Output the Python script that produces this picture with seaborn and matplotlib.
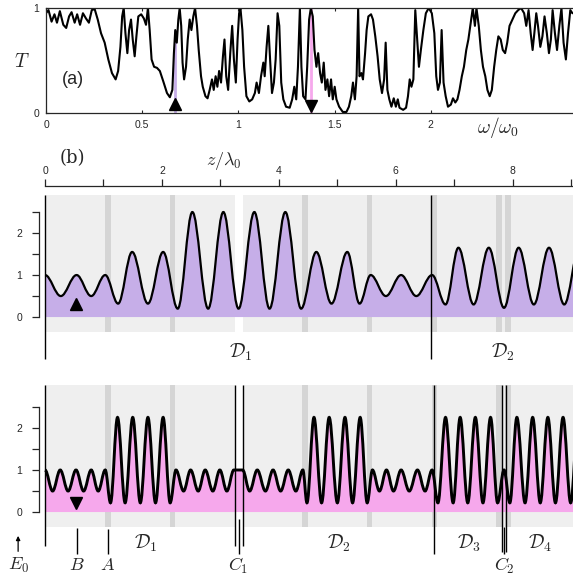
import numpy as np
import matplotlib
matplotlib.use("Agg")
import matplotlib.pyplot as plt
import seaborn as sns
from matplotlib.path import Path
from matplotlib.patches import PathPatch

# ─── DATA ─────────────────────────────────────────────────────────────────────
# (a) transmission spectrum
omega = [0.0, 0.013, 0.029, 0.044, 0.057, 0.072, 0.09, 0.105, 0.12, 0.133, 0.149, 0.162,
         0.177, 0.192, 0.208, 0.223, 0.238, 0.253, 0.269, 0.286, 0.305, 0.324, 0.343, 0.362,
         0.375, 0.387, 0.396, 0.404, 0.413, 0.423, 0.432, 0.442, 0.451, 0.461, 0.47, 0.48,
         0.495, 0.509, 0.52, 0.53, 0.539, 0.549, 0.562, 0.577, 0.592, 0.61, 0.629, 0.644,
         0.657, 0.665, 0.672, 0.68, 0.688, 0.695, 0.703, 0.71, 0.718, 0.728, 0.737, 0.747,
         0.756, 0.766, 0.775, 0.785, 0.794, 0.806, 0.815, 0.829, 0.84, 0.851, 0.863, 0.872,
         0.882, 0.891, 0.9, 0.91, 0.92, 0.928, 0.937, 0.947, 0.958, 0.968, 0.977, 0.987,
         0.996, 1.004, 1.011, 1.021, 1.03, 1.042, 1.057, 1.072, 1.086, 1.095, 1.107, 1.118,
         1.13, 1.137, 1.147, 1.156, 1.166, 1.175, 1.185, 1.194, 1.204, 1.213, 1.223, 1.234,
         1.248, 1.267, 1.28, 1.291, 1.301, 1.31, 1.32, 1.328, 1.337, 1.349, 1.358, 1.368,
         1.377, 1.387, 1.396, 1.406, 1.415, 1.425, 1.434, 1.444, 1.453, 1.463, 1.472, 1.482,
         1.491, 1.501, 1.51, 1.524, 1.543, 1.562, 1.575, 1.587, 1.596, 1.606, 1.615, 1.623,
         1.63, 1.64, 1.648, 1.659, 1.667, 1.676, 1.69, 1.70, 1.712, 1.724, 1.735, 1.747,
         1.758, 1.766, 1.775, 1.785, 1.796, 1.808, 1.819, 1.829, 1.838, 1.857, 1.872, 1.882,
         1.891, 1.9, 1.91, 1.92, 1.93, 1.939, 1.949, 1.962, 1.975, 1.99, 2.006, 2.019,
         2.029, 2.038, 2.048, 2.057, 2.067, 2.078, 2.09, 2.105, 2.116, 2.128, 2.139, 2.15,
         2.162, 2.173, 2.185, 2.196, 2.208, 2.219, 2.23, 2.238, 2.25, 2.261, 2.272, 2.284,
         2.295, 2.307, 2.318, 2.33, 2.341, 2.352, 2.364, 2.375, 2.387, 2.398, 2.41, 2.425,
         2.44, 2.455, 2.47, 2.486, 2.497, 2.509, 2.52, 2.53, 2.539, 2.549, 2.558, 2.57,
         2.581, 2.592, 2.604, 2.615, 2.625, 2.634, 2.646, 2.657, 2.669, 2.68, 2.691, 2.703,
         2.714, 2.726, 2.737]
trans = [0.95, 0.98, 0.87, 0.94, 0.86, 0.97, 0.84, 0.81, 0.92, 0.96, 0.86, 0.94,
         0.84, 0.95, 0.90, 0.86, 0.98, 0.99, 0.89, 0.76, 0.67, 0.51, 0.38, 0.32,
         0.40, 0.63, 0.92, 1.0, 0.76, 0.57, 0.79, 0.89, 0.70, 0.54, 0.73, 0.92,
         0.94, 0.90, 0.84, 1.0, 0.79, 0.51, 0.44, 0.43, 0.40, 0.30, 0.19, 0.15,
         0.22, 0.57, 0.79, 0.67, 0.89, 1.0, 0.83, 0.48, 0.32, 0.44, 0.70, 0.89,
         0.79, 0.92, 1.0, 0.83, 0.60, 0.35, 0.25, 0.16, 0.14, 0.22, 0.32, 0.22,
         0.35, 0.25, 0.40, 0.29, 0.54, 0.70, 0.35, 0.22, 0.57, 0.83, 0.51, 0.29,
         0.70, 0.95, 1.0, 0.79, 0.44, 0.16, 0.11, 0.13, 0.19, 0.29, 0.19, 0.35,
         0.48, 0.35, 0.63, 0.83, 0.48, 0.19, 0.29, 0.51, 0.95, 0.83, 0.29, 0.13,
         0.06, 0.05, 0.13, 0.25, 0.13, 0.44, 1.0, 0.44, 0.16, 0.13, 0.44, 0.89,
         1.0, 0.92, 0.60, 0.44, 0.57, 0.38, 0.29, 0.48, 0.22, 0.32, 0.16, 0.32,
         0.13, 0.25, 0.13, 0.06, 0.01, 0.01, 0.06, 0.16, 0.29, 0.13, 0.35, 1.0,
         0.35, 0.38, 0.32, 0.57, 0.79, 0.92, 0.94, 0.89, 0.73, 0.54, 0.32, 0.19,
         0.32, 0.67, 0.22, 0.13, 0.06, 0.14, 0.06, 0.13, 0.05, 0.03, 0.05, 0.16,
         0.32, 0.25, 0.32, 0.98, 0.70, 0.44, 0.60, 0.79, 0.95, 1.0, 0.95, 0.76,
         0.35, 0.22, 0.29, 0.79, 0.29, 0.16, 0.06, 0.08, 0.14, 0.10, 0.13, 0.22,
         0.35, 0.44, 0.60, 0.70, 0.86, 1.0, 0.83, 1.0, 0.83, 0.60, 0.44, 0.35,
         0.22, 0.16, 0.22, 0.44, 0.60, 0.73, 0.70, 0.60, 0.57, 0.67, 0.83, 0.89,
         0.95, 0.98, 1.0, 0.95, 0.83, 0.98, 0.76, 0.60, 0.76, 0.95, 0.83, 0.63,
         0.73, 0.92, 0.76, 0.57, 0.70, 0.98, 0.76, 0.60, 0.83, 1.0, 0.67, 0.51,
         0.76, 0.98, 0.95]
omega_marks = [0.672, 1.377]          # up / down triangle frequencies
trans_marks = [0.79, 1.0]             # T at those frequencies

# (b) field profile at the lower frequency: extrema along z
b_ext_z = [0.0, 0.27, 0.54, 0.79, 1.03, 1.25, 1.49, 1.76, 2.02, 2.27, 2.52, 2.79, 3.05,
           3.31, 3.58, 3.84, 4.11, 4.38, 4.64, 4.90, 5.17, 5.38, 5.57, 5.83, 6.09, 6.35,
           6.62, 6.85, 7.07, 7.33, 7.59, 7.85, 8.10, 8.36, 8.62, 8.88, 9.14]
b_ext_v = [1.0, 0.5, 1.0, 0.5, 1.0, 0.32, 1.55, 0.32, 1.55, 0.2, 2.5, 0.2, 2.5,
           0.2, 2.5, 0.2, 2.5, 0.2, 1.55, 0.32, 1.55, 0.32, 1.0, 0.5, 1.0, 0.5,
           1.0, 0.3, 1.65, 0.3, 1.65, 0.22, 1.65, 0.3, 1.65, 0.3, 1.65]

# (c) field profile at the higher frequency
c_ext_z = [0.0, 0.13, 0.26, 0.395, 0.53, 0.66, 0.79, 0.91, 1.03,
           1.12, 1.24, 1.37, 1.50, 1.63, 1.76, 1.89, 2.02, 2.14,
           2.24, 2.37, 2.49, 2.62, 2.74, 2.87, 2.99, 3.11, 3.23, 3.38,
           3.50, 3.63, 3.77, 3.90, 4.03, 4.16, 4.29, 4.41,
           4.48, 4.60, 4.73, 4.86, 5.00, 5.13, 5.26, 5.39, 5.51,
           5.60, 5.72, 5.84, 5.96, 6.09, 6.23, 6.37, 6.50, 6.62,
           6.72, 6.85, 6.98, 7.10, 7.23, 7.36, 7.49, 7.62, 7.74,
           7.85,
           7.95, 8.07, 8.21, 8.34, 8.47, 8.60, 8.73, 8.86, 8.99, 9.12]
c_ext_v = [1.0, 0.5, 1.0, 0.5, 1.0, 0.5, 1.0, 0.5, 1.0,
           0.22, 2.25, 0.22, 2.25, 0.22, 2.25, 0.22, 2.25, 0.22,
           1.0, 0.5, 1.0, 0.5, 1.0, 0.5, 1.0, 0.5, 1.0, 1.0,
           0.5, 1.0, 0.5, 1.0, 0.5, 1.0, 0.5, 1.0,
           0.22, 2.25, 0.22, 2.25, 0.22, 2.25, 0.22, 2.25, 0.22,
           1.0, 0.5, 1.0, 0.5, 1.0, 0.5, 1.0, 0.5, 1.0,
           0.22, 2.25, 0.22, 2.25, 0.22, 2.25, 0.22, 2.25, 0.22,
           1.0,
           0.22, 2.25, 0.22, 2.25, 0.22, 2.25, 0.22, 2.25, 0.22, 2.25]

# layer structure
stripe_z = [1.07, 2.18, 4.45, 5.55, 6.66, 7.77, 7.92]
gray_spans = [(0.0, 3.25), (3.38, 9.2)]
b_domain_lines = [0.0, 6.6]
c_domain_lines = [0.0, 3.25, 3.38, 6.65, 7.81, 7.88]
b_domain_labels = ["$\\mathcal{D}_1$", "$\\mathcal{D}_2$"]
b_domain_pos = [3.35, 7.84]
c_domain_labels = ["$\\mathcal{D}_1$", "$\\mathcal{D}_2$", "$\\mathcal{D}_3$", "$\\mathcal{D}_4$"]
c_domain_pos = [1.72, 5.03, 7.25, 8.46]
pointer_labels = ["$B$", "$A$", "$C_1$", "$C_2$"]
pointer_z = [0.54, 1.07, 3.31, 7.85]
source_z = -0.46

# colours
LAVENDER = "#c6aee8"
PINK = "#f6a8ec"
BG = "#efefef"
STRIPE = "#d5d5d5"

# ─── LAYOUT HELPERS ──────────────────────────────────────────────────────────
W, H = 573, 580


def box(x0, y0, x1, y1):
    return [x0 / W, 1 - y1 / H, (x1 - x0) / W, (y1 - y0) / H]


def wave_path(z, v, close=False):
    # smooth half-waves between consecutive extrema (horizontal tangents)
    verts = [(z[0], v[0])]
    codes = [Path.MOVETO]
    for i in range(len(z) - 1):
        d = z[i + 1] - z[i]
        verts += [(z[i] + 0.3642 * d, v[i]), (z[i + 1] - 0.3642 * d, v[i + 1]),
                  (z[i + 1], v[i + 1])]
        codes += [Path.CURVE4] * 3
    if close:
        verts += [(z[-1], 0), (z[0], 0), (z[0], 0)]
        codes += [Path.LINETO, Path.LINETO, Path.CLOSEPOLY]
    return Path(verts, codes)


def field_panel(ax, ext_z, ext_v, fill, bg_top, lw):
    for s, e in gray_spans:
        ax.fill_between([s, e], -0.36, bg_top, color=BG, lw=0, zorder=0)
    ax.bar(stripe_z, bg_top + 0.36, bottom=-0.36, width=0.1, color=STRIPE,
           lw=0, zorder=1)
    ax.add_patch(PathPatch(wave_path(ext_z, ext_v, close=True), facecolor=fill,
                           edgecolor="none", zorder=2))
    ax.add_patch(PathPatch(wave_path(ext_z, ext_v), facecolor="none",
                           edgecolor="black", lw=lw, zorder=3))
    ax.set_xlim(-0.103, 9.03)
    ax.set_yticks([0, 0.5, 1, 1.5, 2, 2.5])
    ax.set_yticklabels(["0", "", "1", "", "2", ""])
    ax.spines["left"].set_bounds(0, 2.5)
    ax.spines["right"].set_visible(False)
    ax.spines["bottom"].set_visible(False)
    ax.tick_params(axis="y", direction="out", length=5, width=0.9, pad=7,
                   labelsize=7.5)
    for sp in ax.spines.values():
        sp.set_linewidth(0.9)


# ─── FIGURE ──────────────────────────────────────────────────────────────────
sns.set_theme(style="ticks")
plt.rcParams["font.family"] = ["Liberation Sans", "DejaVu Sans"]
plt.rcParams["mathtext.fontset"] = "cm"

fig = plt.figure(figsize=(W / 100, H / 100), dpi=100)

# (a) transmission
ax_a = fig.add_axes(box(46, 8, 573, 113))
sns.lineplot(x=omega, y=trans, ax=ax_a, color="black", lw=1.5, sort=False)
ax_a.vlines(omega_marks[0], 0, trans_marks[0], color=LAVENDER, lw=2, zorder=1)
ax_a.vlines(omega_marks[1], 0, trans_marks[1], color=PINK, lw=2, zorder=1)
ax_a.plot(omega_marks[0], 0.09, marker="^", color="black", ms=9, zorder=5)
ax_a.plot(omega_marks[1], 0.07, marker="v", color="black", ms=9, zorder=5)
ax_a.set_xlim(0, 2.74)
ax_a.set_ylim(0, 1)
ax_a.set_xticks([0, 0.5, 1, 1.5, 2])
ax_a.set_xticklabels(["0", "0.5", "1", "1.5", "2"])
ax_a.set_yticks([0, 1])
ax_a.set_yticklabels(["0", "1"])
ax_a.tick_params(direction="in", length=2, width=0.8, labelsize=7.5, pad=5,
                 top=True)
ax_a.spines["right"].set_visible(False)
for sp in ax_a.spines.values():
    sp.set_linewidth(0.9)
ax_a.set_xlabel("")
ax_a.set_ylabel("")
fig.text(22 / W, 1 - 62 / H, "$T$", fontsize=14, ha="center", va="center")
fig.text(498 / W, 1 - 127 / H, "$\\omega/\\omega_0$", fontsize=14, ha="center",
         va="center")
ax_a.text(0.08, 0.32, "(a)", fontsize=13, ha="left", va="center")

# (b) lower-frequency field
ax_b = fig.add_axes(box(39, 186, 573, 362))
field_panel(ax_b, b_ext_z, b_ext_v, LAVENDER, 2.9, 1.6)
ax_b.set_ylim(-1.07, 3.12)
ax_b.xaxis.tick_top()
ax_b.set_xticks(np.arange(0, 10))
ax_b.set_xticklabels([str(t) if t % 2 == 0 else "" for t in range(10)])
ax_b.spines["top"].set_bounds(0, 9.2)
ax_b.tick_params(axis="x", direction="out", length=5, width=0.9, pad=2,
                 labelsize=7.5)
ax_b.vlines(b_domain_lines, -1.0, 2.9, color="black", lw=1, zorder=4)
ax_b.plot(0.53, 0.3, marker="^", color="black", ms=9, zorder=5)
for lab, z in zip(b_domain_labels, b_domain_pos):
    ax_b.text(z, -0.84, lab, fontsize=14, ha="center", va="center")
fig.text(72 / W, 1 - 158 / H, "(b)", fontsize=13, ha="center", va="center",
         family="DejaVu Serif")
fig.text(224 / W, 1 - 161 / H, "$z/\\lambda_0$", fontsize=13, ha="center",
         va="center")

# (c) higher-frequency field
ax_c = fig.add_axes(box(39, 380, 573, 560))
field_panel(ax_c, c_ext_z, c_ext_v, PINK, 3.02, 2.1)
ax_c.set_ylim(-1.14, 3.14)
ax_c.spines["top"].set_visible(False)
ax_c.set_xticks([])
line_bottoms = [-0.8, -0.8, -0.8, -1.0, -0.96, -0.96]
ax_c.vlines(c_domain_lines, line_bottoms, 3.02, color="black", lw=1, zorder=4)
ax_c.plot(0.53, 0.21, marker="v", color="black", ms=9, zorder=5)
for lab, z in zip(c_domain_labels, c_domain_pos):
    ax_c.text(z, -0.74, lab, fontsize=14, ha="center", va="center")
pointer_tops = [-0.38, -0.41, -0.17, -0.35]
ax_c.vlines(pointer_z, -1.0, pointer_tops, color="black", lw=1, zorder=4)
for lab, z in zip(pointer_labels, pointer_z):
    ax_c.text(z, -1.27, lab, fontsize=13, ha="center", va="center", clip_on=False)
ax_c.annotate("", xy=(source_z, -0.5), xytext=(source_z, -1.0),
              annotation_clip=False,
              arrowprops=dict(arrowstyle="-|>", color="black", lw=0.9,
                              mutation_scale=6))
ax_c.text(source_z, -1.27, "$E_0$", fontsize=13, ha="center", va="center",
          clip_on=False)

fig.savefig("out.png", dpi=100)
